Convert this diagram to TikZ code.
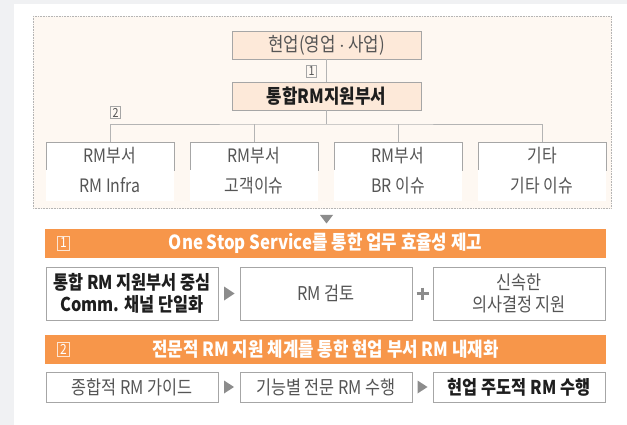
\documentclass[tikz,border=0pt]{standalone}
\usepackage{fontspec}
\setmainfont{Noto Sans CJK KR}[FakeStretch=0.86]
\usetikzlibrary{calc}
\definecolor{bgray}{HTML}{F0F1F3}
\definecolor{panel}{HTML}{FEF8F2}
\definecolor{peach}{HTML}{FDE9D9}
\definecolor{bordr}{HTML}{A6A6A6}
\definecolor{linec}{HTML}{B4B4B4}
\definecolor{txt}{HTML}{555555}
\definecolor{dark}{HTML}{1E1E1E}
\definecolor{orng}{HTML}{F7964A}
\definecolor{trig}{HTML}{8C8C8C}
\begin{document}
\begin{tikzpicture}[x=1pt,y=-1pt,
  orgbox/.style={draw=bordr,fill=peach,minimum width=189pt,minimum height=28pt,inner sep=0pt,text=txt,font=\fontsize{19.5}{22}\selectfont},
  subtop/.style={draw=bordr,fill=white,minimum width=128pt,minimum height=28pt,inner sep=0pt,text=txt,font=\fontsize{18.5}{21}\selectfont},
  subbot/.style={fill=white,minimum width=128pt,minimum height=31pt,inner sep=0pt,text=txt,font=\fontsize{18.5}{21}\selectfont},
  numbox/.style={draw=bordr,line width=0.6pt,inner sep=0.4pt,minimum width=10pt,minimum height=12pt,text=txt,font=\fontsize{12.5}{13}\selectfont},
  barbox/.style={fill=orng,minimum width=561pt,minimum height=29pt,inner sep=0pt,text=white,font=\bfseries\fontsize{19.5}{22}\selectfont},
  barnum/.style={draw=white!75!orng,line width=0.7pt,inner sep=0.4pt,minimum width=12pt,minimum height=14pt,text=white,font=\fontsize{14}{15}\selectfont},
  rowbox/.style={draw=bordr,fill=white,minimum width=172pt,inner sep=0pt,align=center,text=txt,font=\fontsize{19}{23}\selectfont},
  boldtxt/.style={text=dark,font=\bfseries\fontsize{19}{23}\selectfont},
  orgline/.style={draw=linec,line width=0.8pt}
]
\useasboundingbox (0,0) rectangle (627,425);
\fill[bgray] (0,0) rectangle (627,425);
\fill[white] (14,4) rectangle (627,425);
\draw[panel,fill=panel] (33,16) rectangle (611,208);
\draw[linec,densely dotted,line width=0.6pt] (33,16) rectangle (611,208);

% org chart
\node[orgbox] (top) at (326.5,45) {현업(영업$\,\cdot\,$사업)};
\node[orgbox,font=\bfseries\fontsize{19.5}{22}\selectfont,text=dark] (mid) at (326.5,96) {통합RM지원부서};
\draw[orgline] (top.south) -- (mid.north);
\node[numbox] (n1) at (311.5,71) {1};

\node[subtop] (s1) at (110,156) {RM부서};
\node[subtop] (s2) at (254,156) {RM부서};
\node[subtop] (s3) at (398,156) {RM부서};
\node[subtop] (s4) at (542,156) {기타};
\node[subbot] (b1) at (110,185.5) {RM Infra};
\node[subbot] (b2) at (254,185.5) {고객이슈};
\node[subbot] (b3) at (398,185.5) {BR 이슈};
\node[subbot] (b4) at (542,185.5) {기타 이슈};

\coordinate (bj) at (326.5,124);
\draw[orgline] (mid.south) -- (bj);
\draw[orgline] (s1.north) |- (bj) -| (s4.north);
\draw[orgline] (s2.north) -- (s2.north |- bj);
\draw[orgline] (s3.north) -- (s3.north |- bj);
\node[numbox] (n2) at (115.5,112.5) {2};

% down triangle
\coordinate (dt) at (326.5,215);
\fill[trig] (dt) ++(-6.5,0) -- ++(13,0) -- ++(-6.5,8.5) -- cycle;

% bar 1
\node[barbox] (bar1) at (325.5,243.5) {One Stop Service를 통한 업무 효율성 제고};
\node[barnum] (bn1) at (63.5,243) {1};

\node[rowbox,minimum height=53pt] (a1) at (132,293.5) {\textbf{\textcolor{dark}{통합 RM 지원부서 중심}}\\[-1pt]\textbf{\textcolor{dark}{Comm. 채널 단일화}}};
\node[rowbox,minimum height=53pt] (a2) at (326,293.5) {RM 검토};
\node[rowbox,minimum height=53pt] (a3) at (519,293.5) {신속한\\[-1pt]의사결정 지원};
\coordinate (t1) at ($(a1.east)!0.5!(a2.west)$);
\fill[trig] (t1) ++(-5,-7) -- ++(10.5,7) -- ++(-10.5,7) -- cycle;
\coordinate (p1) at ($(a2.east)!0.5!(a3.west)$);
\draw[trig,line width=2.6pt] ($(p1)+(-6,0)$) -- ($(p1)+(6,0)$);
\draw[trig,line width=2.6pt] ($(p1)+(0,-6)$) -- ($(p1)+(0,6)$);

% bar 2
\node[barbox] (bar2) at (325.5,349.5) {전문적 RM 지원 체계를 통한 현업 부서 RM 내재화};
\node[barnum] (bn2) at (63.5,349) {2};

\node[rowbox,minimum height=30pt] (c1) at (132,387) {종합적 RM 가이드};
\node[rowbox,minimum height=30pt] (c2) at (326,387) {기능별 전문 RM 수행};
\node[rowbox,minimum height=30pt,boldtxt] (c3) at (519,387) {현업 주도적 RM 수행};
\coordinate (t2) at ($(c1.east)!0.5!(c2.west)$);
\fill[trig] (t2) ++(-5,-6.5) -- ++(10,6.5) -- ++(-10,6.5) -- cycle;
\coordinate (t3) at ($(c2.east)!0.5!(c3.west)$);
\fill[trig] (t3) ++(-5,-6.5) -- ++(10,6.5) -- ++(-10,6.5) -- cycle;
\end{tikzpicture}
\end{document}
